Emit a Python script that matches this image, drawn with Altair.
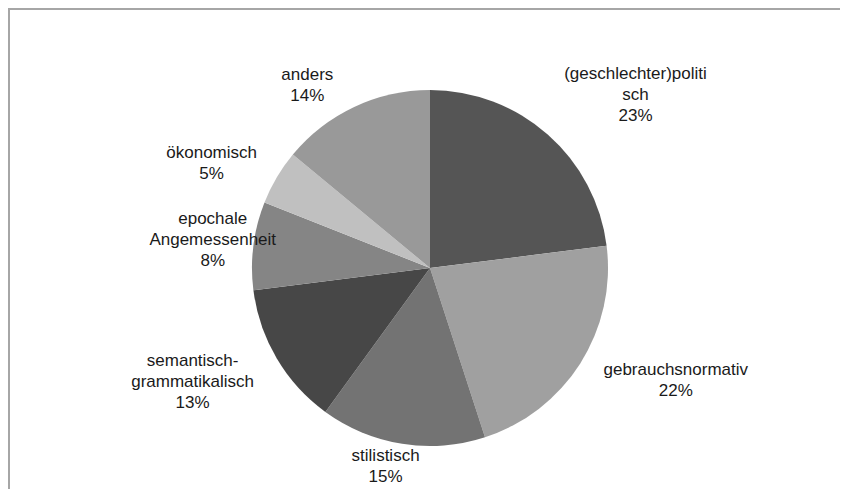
import math
import altair as alt
import pandas as pd

categories = ["(geschlechter)politisch", "gebrauchsnormativ", "stilistisch",
              "semantisch-grammatikalisch", "epochale Angemessenheit", "ökonomisch", "anders"]
shares = [23, 22, 15, 13, 8, 5, 14]
label_lines = ["(geschlechter)politi\nsch", "gebrauchsnormativ", "stilistisch",
               "semantisch-\ngrammatikalisch", "epochale\nAngemessenheit", "ökonomisch", "anders"]
colors = ["#555555", "#a0a0a0", "#737373", "#474747", "#858585", "#c0c0c0", "#999999"]

df = pd.DataFrame({
    "idx": list(range(len(categories))),
    "category": categories,
    "share": shares,
    "label": [f"{l}\n{v}%" for l, v in zip(label_lines, shares)],
})

# layout (pixels)
W, H = 832, 481
CX, CY, R, LR = 422, 260, 178, 220
LH = 21
nudges = {
    "(geschlechter)politisch": (60, -8),
    "gebrauchsnormativ": (60, -5),
    "stilistisch": (-10, -19),
    "semantisch-grammatikalisch": (-48, 2),
    "epochale Angemessenheit": (1, 0),
    "ökonomisch": (-29, 7),
    "anders": (-29, 17),
}
nlines = {c: l.count("\n") + 2 for c, l in zip(categories, label_lines)}

theta_scale = alt.Scale(domain=[0, 100], range=[0, 2 * math.pi])

base = alt.Chart(df).transform_window(
    cum="sum(share)", sort=[alt.SortField("idx")], frame=[None, 0]
).transform_calculate(
    start="datum.cum - datum.share", mid="datum.cum - datum.share / 2"
)

pie = base.mark_arc(radius=R).encode(
    x=alt.value(CX), y=alt.value(CY),
    theta=alt.Theta("start:Q", scale=theta_scale),
    theta2="cum:Q",
    color=alt.Color("category:N", scale=alt.Scale(domain=categories, range=colors), legend=None),
)

texts = []
for cat, (dx, dy) in nudges.items():
    dy_block = dy - (nlines[cat] - 1) * LH / 2
    t = base.transform_filter(alt.datum.category == cat).mark_text(
        radius=LR, dx=dx, dy=dy_block, fontSize=17, font="Liberation Sans",
        lineBreak="\n", lineHeight=LH, align="center", baseline="middle", color="#1a1a1a",
    ).encode(
        x=alt.value(CX), y=alt.value(CY),
        theta=alt.Theta("mid:Q", scale=theta_scale),
        text="label:N",
    )
    texts.append(t)

frame_src = alt.Chart(pd.DataFrame({"a": [0]}))
top_edge = frame_src.mark_rule(color="#a6a6a6", strokeWidth=2).encode(
    x=alt.value(0), x2=alt.value(W), y=alt.value(1))
left_edge = frame_src.mark_rule(color="#a6a6a6", strokeWidth=2).encode(
    x=alt.value(1), y=alt.value(0), y2=alt.value(H))

chart = alt.layer(top_edge, left_edge, pie, *texts).properties(
    width=W, height=H, autosize="none", padding=0
).configure_view(strokeWidth=0)

chart.save("out.html", embed_options={"renderer": "svg", "actions": False})
